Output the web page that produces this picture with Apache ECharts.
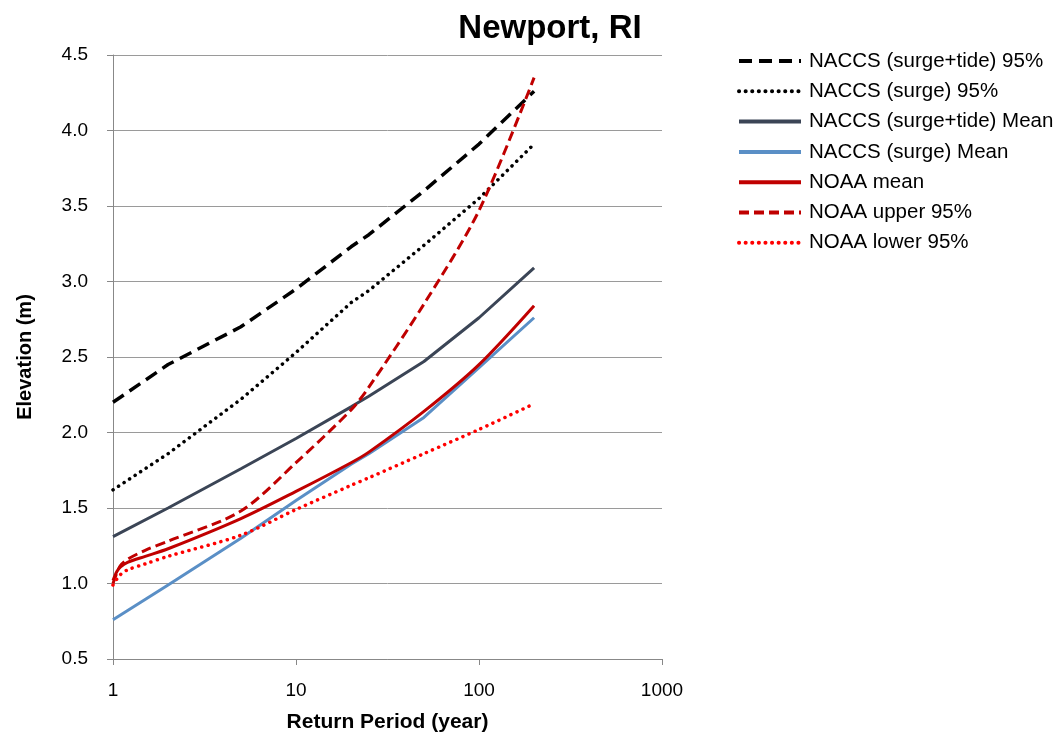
<!DOCTYPE html>
<html>
<head>
<meta charset="utf-8">
<script src="https://cdn.jsdelivr.net/npm/echarts@6/dist/echarts.min.js"></script>
<style>
  html, body { margin: 0; padding: 0; background: #fff; }
  #chart { width: 1057px; height: 740px; }
</style>
</head>
<body>
<div id="chart"></div>
<script>
// return periods (year)
var nacPeriods = [1, 2, 5, 10, 20, 25, 50, 100, 200];
var noaaPeriods = [1, 1.05, 1.1, 1.2, 1.5, 2, 5, 10, 20, 25, 50, 100, 200];

// elevations (m)
var naccsTide95 = [2.20, 2.45, 2.70, 2.95, 3.23, 3.31, 3.60, 3.91, 4.26];
var naccsSurge95 = [1.62, 1.86, 2.22, 2.53, 2.86, 2.94, 3.24, 3.55, 3.91];
var naccsTideMean = [1.31, 1.50, 1.76, 1.96, 2.17, 2.24, 2.47, 2.76, 3.09];
var naccsSurgeMean = [0.76, 0.99, 1.30, 1.55, 1.79, 1.86, 2.10, 2.43, 2.76];
var noaaMean = [1.02, 1.08, 1.11, 1.14, 1.18, 1.23, 1.43, 1.61, 1.80, 1.87, 2.14, 2.45, 2.84];
var noaaUpper = [1.00, 1.07, 1.12, 1.16, 1.22, 1.28, 1.48, 1.80, 2.15, 2.30, 2.85, 3.47, 4.35];
var noaaLower = [0.99, 1.03, 1.06, 1.09, 1.13, 1.18, 1.32, 1.49, 1.65, 1.70, 1.86, 2.02, 2.19];

var seriesNames = ['NACCS (surge+tide) 95%', 'NACCS (surge) 95%', 'NACCS (surge+tide) Mean',
    'NACCS (surge) Mean', 'NOAA mean', 'NOAA upper 95%', 'NOAA lower 95%'];

function pairs(xs, ys) {
    return xs.map(function (x, i) { return [x, ys[i]]; });
}

var font = 'Liberation Sans';
var myChart = echarts.init(document.getElementById('chart'));

function mkLine(name, xs, ys, color, width, type, cap, smooth) {
    return {
        name: name,
        type: 'line',
        data: pairs(xs, ys),
        symbol: 'none',
        smooth: smooth || false,
        lineStyle: { color: color, width: width, type: type, cap: cap },
        itemStyle: { color: color }
    };
}

var option = {
    animation: false,
    title: {
        text: 'Newport, RI',
        left: 545,
        textAlign: 'center',
        top: 7,
        textStyle: { fontFamily: font, fontSize: 33, fontWeight: 'bold', color: '#000' }
    },
    legend: {
        orient: 'vertical',
        left: 732,
        top: 45,
        itemWidth: 62,
        itemHeight: 14,
        itemGap: 8.3,
        data: seriesNames,
        itemStyle: { opacity: 0 },
        lineStyle: { width: 4 },
        textStyle: { fontFamily: font, fontSize: 20.5, color: '#000', lineHeight: 22, padding: [0, 0, 0, 3] }
    },
    grid: { left: 113, right: 395, top: 55, bottom: 81 },
    xAxis: {
        type: 'log',
        logBase: 10,
        min: 1,
        max: 1000,
        name: 'Return Period (year)',
        nameLocation: 'middle',
        nameGap: 53,
        nameTextStyle: { fontFamily: font, fontSize: 21, fontWeight: 'bold', color: '#000' },
        axisLine: { lineStyle: { color: '#888', width: 1 } },
        axisTick: { show: true, length: 6, lineStyle: { color: '#888' } },
        minorTick: { show: false },
        splitLine: { show: false },
        axisLabel: {
            fontFamily: font, fontSize: 19, color: '#000', margin: 22,
            formatter: function (v) { return String(Math.round(v)); }
        }
    },
    yAxis: {
        type: 'value',
        min: 0.5,
        max: 4.5,
        interval: 0.5,
        name: 'Elevation (m)',
        nameLocation: 'middle',
        nameGap: 78,
        nameTextStyle: { fontFamily: font, fontSize: 20, fontWeight: 'bold', color: '#000' },
        axisLine: { show: true, lineStyle: { color: '#888', width: 1 } },
        axisTick: { show: true, length: 6, lineStyle: { color: '#888' } },
        splitLine: { lineStyle: { color: '#9a9a9a', width: 1 } },
        axisLabel: {
            fontFamily: font, fontSize: 19, color: '#000', margin: 25,
            formatter: function (v) { return v.toFixed(1); }
        }
    },
    series: [
        mkLine(seriesNames[0], nacPeriods, naccsTide95, '#000000', 3.5, [13, 7], 'butt'),
        mkLine(seriesNames[1], nacPeriods, naccsSurge95, '#000000', 3.5, [0.1, 6.5], 'round'),
        mkLine(seriesNames[2], nacPeriods, naccsTideMean, '#3b4556', 3, 'solid', 'butt'),
        mkLine(seriesNames[3], nacPeriods, naccsSurgeMean, '#5a8fc6', 3, 'solid', 'butt'),
        mkLine(seriesNames[4], noaaPeriods, noaaMean, '#c00000', 3, 'solid', 'butt', 0.3),
        mkLine(seriesNames[5], noaaPeriods, noaaUpper, '#c00000', 3, [10, 5], 'butt', 0.3),
        mkLine(seriesNames[6], noaaPeriods, noaaLower, '#ff0000', 3.5, [0.1, 6.5], 'round', 0.3)
    ]
};

myChart.setOption(option);
</script>
</body>
</html>
